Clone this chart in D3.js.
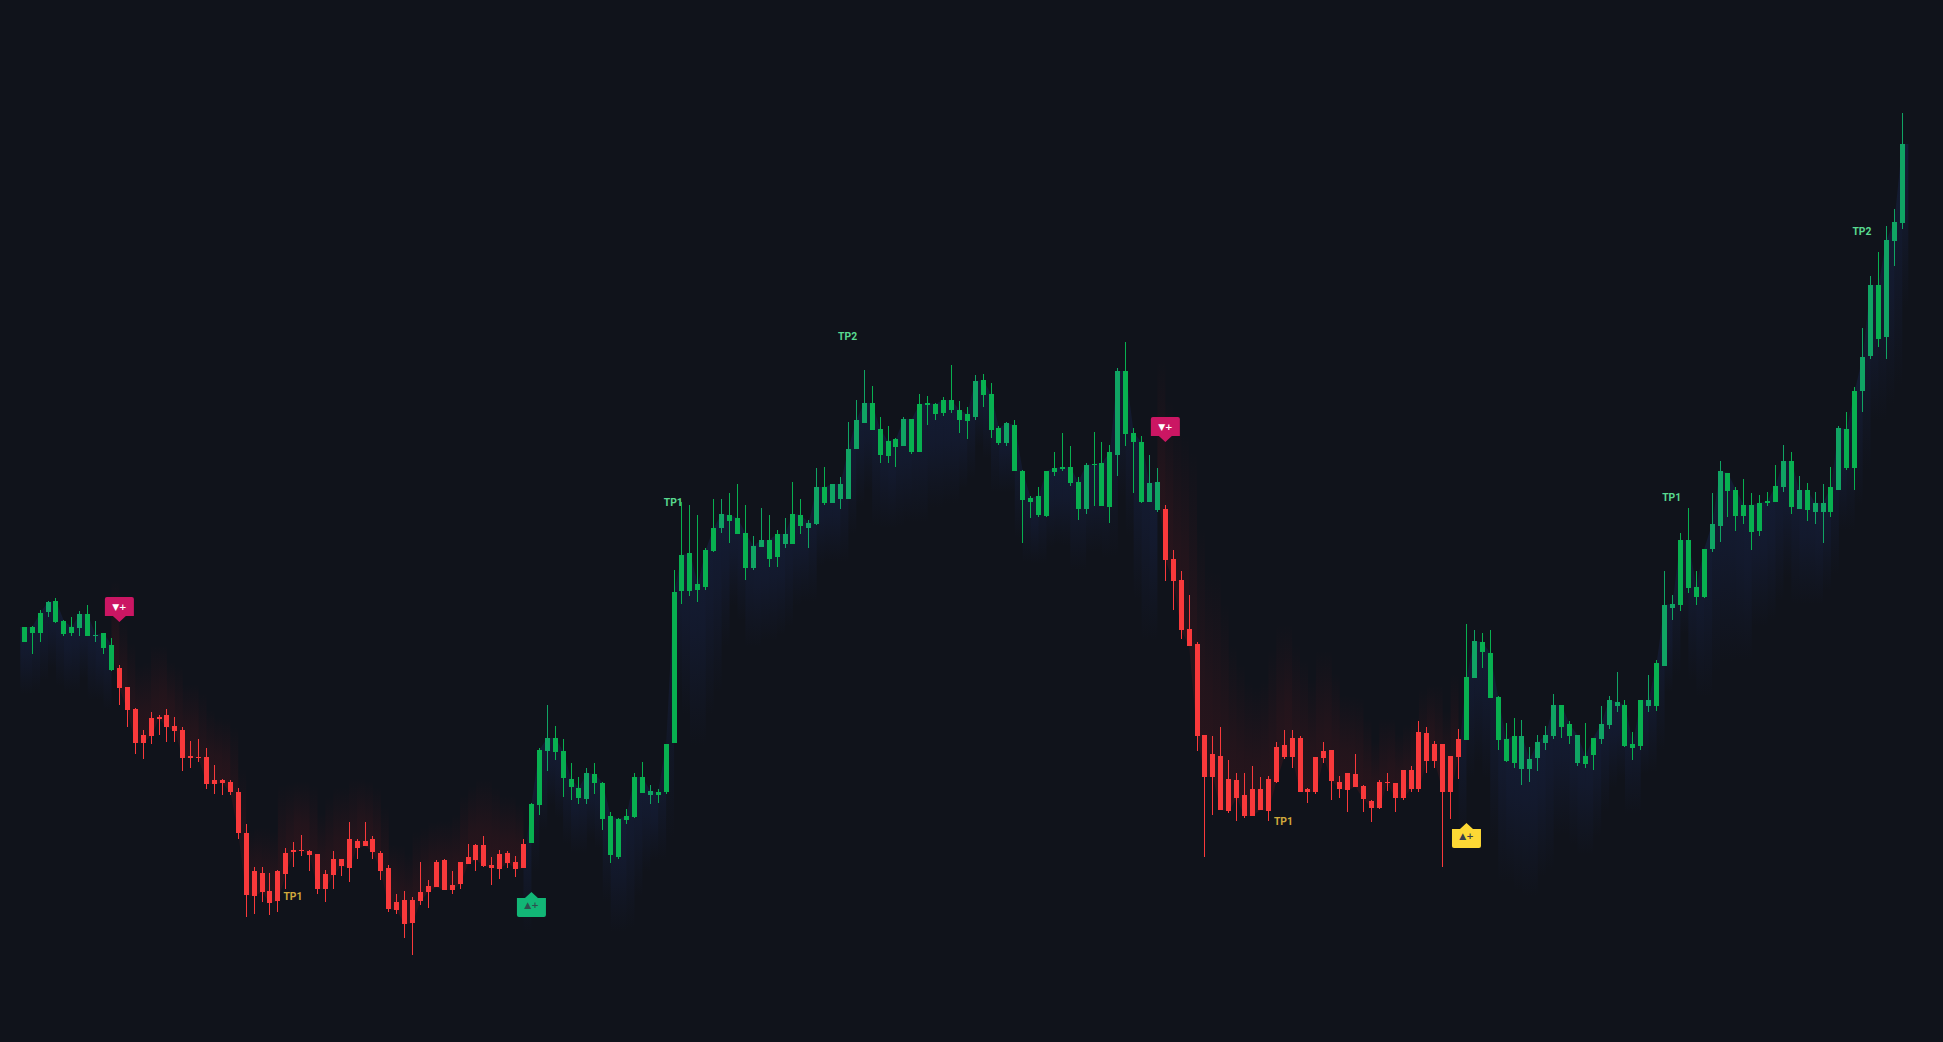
<!DOCTYPE html>
<html><head><meta charset="utf-8">
<script src="https://cdnjs.cloudflare.com/ajax/libs/d3/7.8.5/d3.min.js"></script>
<style>html,body{margin:0;padding:0;background:#10131b;overflow:hidden}svg{display:block}</style>
</head><body><div id="chart"></div>
<script>
const high=[415,416,432,441,444,422,425,431,437,421,409,404,377,355,334,312,330,327,333,325,315,301,303,294,277,263,262,254,218,175,175,169,172,194,200,207,192,188,172,191,183,220,203,220,206,191,177,148,151,145,180,162,182,183,171,180,198,198,206,185,192,191,186,203,239,294,337,316,303,279,265,274,279,260,230,224,233,269,280,257,253,298,472,540,537,527,494,543,543,549,558,537,506,534,527,512,524,560,543,522,574,575,558,565,620,642,672,656,625,616,604,625,623,648,646,639,645,677,641,635,667,668,659,616,620,622,572,546,555,571,590,609,596,565,579,610,600,597,674,700,614,606,587,574,537,492,471,447,400,307,306,315,282,269,269,276,265,266,300,312,312,306,254,285,300,292,266,269,288,257,242,262,269,259,272,276,321,315,301,298,286,313,418,412,409,412,346,319,324,322,295,307,316,348,337,321,307,319,304,336,346,370,342,310,342,367,382,471,447,509,534,471,493,549,581,569,555,563,549,547,550,577,597,590,566,559,550,558,575,616,630,655,714,766,790,816,833,929];
const bodyTop=[415,415,429,440,441,421,415,428,428,407,409,397,374,355,333,307,324,325,327,316,312,286,285,285,262,262,260,250,209,171,169,151,171,189,192,192,191,188,168,183,183,203,201,201,203,189,174,140,142,142,150,156,180,182,157,180,185,197,197,177,188,189,180,198,238,292,304,304,291,263,254,269,268,259,226,223,226,265,265,251,250,298,450,487,489,458,492,514,528,527,524,509,496,502,502,508,508,528,527,519,555,555,558,558,593,622,639,639,613,601,603,623,623,638,639,638,642,642,632,628,661,662,648,614,619,617,571,544,546,571,574,575,575,560,577,578,579,590,671,671,609,600,559,560,533,483,462,413,398,307,288,286,263,262,247,253,253,263,295,297,304,304,253,285,291,292,260,269,268,256,241,260,260,259,272,272,310,309,298,298,286,303,365,401,400,389,345,303,306,306,283,300,307,337,337,318,307,286,304,318,342,340,337,298,342,342,379,437,438,502,502,455,493,518,571,569,552,537,537,539,541,556,581,581,552,552,539,539,555,614,613,651,685,757,757,802,820,898];
const bodyBottom=[400,409,409,430,420,408,409,414,406,406,394,372,354,332,299,299,306,323,315,311,284,284,284,258,258,259,250,209,147,146,150,139,141,168,190,191,187,153,153,167,176,174,194,196,190,171,133,132,118,119,141,150,155,152,152,158,178,182,176,174,173,179,173,174,199,237,291,290,264,255,244,243,259,223,187,185,222,225,249,247,247,250,299,451,451,452,455,491,514,521,508,474,474,495,483,485,498,498,516,514,518,539,539,543,543,593,619,612,587,586,595,596,590,590,637,628,629,632,622,621,625,647,612,599,599,571,542,540,527,526,570,573,559,533,533,577,536,535,587,608,600,540,540,532,482,461,412,396,306,265,265,232,231,244,226,226,232,231,260,285,285,250,250,250,284,261,253,252,255,243,234,234,259,244,244,253,253,281,281,250,250,285,302,364,390,344,302,281,279,273,273,284,299,306,315,306,279,278,287,303,317,336,296,294,296,336,336,376,434,437,454,445,445,493,516,551,526,526,510,511,539,540,555,535,533,532,530,530,530,552,574,574,651,686,703,705,801,819];
const low=[400,388,400,425,419,406,406,406,406,400,388,371,337,315,288,283,298,307,300,300,271,274,280,253,248,247,247,203,125,128,140,127,130,153,175,186,171,148,140,153,166,160,183,196,183,162,130,128,104,87,137,134,155,152,148,153,178,171,175,157,163,174,165,174,199,227,271,282,245,242,238,238,248,212,179,183,218,224,249,238,239,248,299,438,446,440,452,490,509,499,508,462,472,495,475,475,494,498,508,494,517,537,539,533,543,593,619,612,579,579,575,596,588,590,617,622,626,629,609,603,622,635,604,597,596,571,499,524,525,525,566,571,556,522,528,536,536,519,566,596,549,539,540,530,461,432,403,396,291,185,227,232,229,221,224,226,232,221,259,283,274,250,239,248,279,242,244,230,255,230,220,233,251,230,242,250,250,269,274,175,223,263,302,364,374,344,292,280,274,257,260,271,292,303,304,298,276,274,272,298,313,330,295,282,292,330,331,376,422,431,449,437,444,490,500,525,511,518,492,506,536,540,550,528,533,521,518,499,525,552,572,552,630,683,695,683,776,813];

// trend regimes: first candle index, last candle index, direction
const regimes=[
  {from:0,to:11,dir:"up"},
  {from:12,to:63,dir:"down"},
  {from:64,to:143,dir:"up"},
  {from:144,to:181,dir:"down"},
  {from:182,to:237,dir:"up"}
];
const tinted=[3,7,9,66,71,79,88,92,93,96,99,100,102,103,104,105,106,111,120,124,134,138,142,143,183,189,190,191,192,193,196,199,200,201,205,207,208,213,214,222,224,226,227,229,232,233,235,236,237];
const tpLabels=[
  {text:"TP1",i:34,price:142,kind:"down"},
  {text:"TP1",i:159,price:217,kind:"down"},
  {text:"TP1",i:82,price:536,kind:"up"},
  {text:"TP2",i:104,price:702,kind:"up"},
  {text:"TP1",i:208,price:541,kind:"up"},
  {text:"TP2",i:232,price:807,kind:"up"}
];
const badges=[
  {i:12,price:420,side:"above",glyph:"▼+",fill:"#cb1663",ink:"#ffffff"},
  {i:144,price:600,side:"above",glyph:"▼+",fill:"#cb1663",ink:"#ffffff"},
  {i:64,price:150,side:"below",glyph:"▲+",fill:"#12b676",ink:"#2f4f4f"},
  {i:182,price:219,side:"below",glyph:"▲+",fill:"#fdd835",ink:"#3b3f4a"}
];

const W=1943,H=1042;
const svg=d3.select("#chart").append("svg").attr("width",W).attr("height",H).attr("viewBox",[0,0,W,H]);
svg.append("rect").attr("width",W).attr("height",H).attr("fill","#10131b");
const x=d3.scaleLinear().domain([0,high.length-1]).range([24.3,1902.3]);
const y=d3.scaleLinear().domain([0,H]).range([H,0]);

const dirOf=i=>regimes.find(r=>i>=r.from&&i<=r.to).dir;
const closeOf=i=>dirOf(i)==="up"?bodyTop[i]:bodyBottom[i];
const depthOf=i=>Math.max(65,4.5*d3.median(d3.range(Math.max(0,i-13),i+1),k=>bodyTop[k]-bodyBottom[k]));

const defs=svg.append("defs");
function grad(id,color,op,dir){
  const g=defs.append("linearGradient").attr("id",id).attr("x1",0).attr("x2",0).attr("y1",dir==="up"?0:1).attr("y2",dir==="up"?1:0);
  [[0,op],[.4,op*.72],[.75,op*.28],[1,0]].forEach(([o,a])=>g.append("stop").attr("offset",o).attr("stop-color",color).attr("stop-opacity",a));
}
grad("glow-up","#20367f",.25,"up");
grad("glow-down","#a81c1f",.17,"down");

// glow columns, one per interval, hanging off the close line
const glow=svg.append("g");
const cols=d3.range(-1,high.length).map(i=>{
  const b=Math.min(i+1,high.length-1), a=Math.max(i,0);
  const d=dirOf(i+1<high.length?i+1:i);
  return {a,b,d,xa:i<0?x(0)-4:x(a),xb:i+1>=high.length?x(a)+6:x(b)};
});
glow.selectAll("path").data(cols).join("path")
  .attr("fill",c=>`url(#glow-${c.d})`)
  .attr("d",c=>{
    const ca=closeOf(c.a),cb=closeOf(c.b);
    const da=depthOf(c.a),db=depthOf(c.b);
    const edge=(c.d==="up"?Math.min(ca-da,cb-db):Math.max(ca+da,cb+db));
    return `M${c.xa},${y(ca)}L${c.xb},${y(cb)}L${c.xb},${y(edge)}L${c.xa},${y(edge)}Z`;
  });

// candles
const candleColor=i=>dirOf(i)==="up"?(tinted.includes(i)?"#10a464":"#08b050"):"#f9393b";
const candles=svg.append("g").attr("shape-rendering","crispEdges");
const idx=d3.range(high.length);
candles.selectAll("rect.w").data(idx).join("rect").attr("class","w")
  .attr("x",i=>Math.round(x(i)-2.5)+2).attr("width",1)
  .attr("y",i=>y(high[i])).attr("height",i=>y(low[i])-y(high[i]))
  .attr("fill",candleColor);
candles.selectAll("rect.b").data(idx).join("rect").attr("class","b")
  .attr("x",i=>Math.round(x(i)-2.5)).attr("width",5)
  .attr("y",i=>y(bodyTop[i])).attr("height",i=>Math.max(1,y(bodyBottom[i])-y(bodyTop[i])))
  .attr("fill",candleColor);

// TP labels
svg.append("g").selectAll("text").data(tpLabels).join("text")
  .attr("x",d=>x(d.i)-0.8).attr("y",d=>y(d.price)).attr("text-anchor","middle")
  .attr("font-family","Roboto, sans-serif").attr("font-size",11.5).attr("font-weight",700)
  .attr("textLength",19).attr("lengthAdjust","spacingAndGlyphs")
  .attr("fill",d=>d.kind==="up"?"#58d98f":"#d0aa3c").text(d=>d.text);

// signal badges
const badge=svg.append("g").selectAll("g").data(badges).join("g")
  .attr("transform",d=>`translate(${x(d.i)},${y(d.price)})`);
badge.append("path").attr("fill",d=>d.fill).attr("d",d=>{
  const s=d.side==="above"?1:-1, bw=14.5, r=2, h=19, tip=6, pw=6.5;
  // origin sits on the pointer tip
  const b0=-s*tip, b1=-s*(tip+h);
  return `M0,0L${pw},${b0}L${bw},${b0}` +
    `L${bw},${b1+s*r}Q${bw},${b1} ${bw-r},${b1}L${-bw+r},${b1}Q${-bw},${b1} ${-bw},${b1+s*r}`+
    `L${-bw},${b0}L${-pw},${b0}Z`;
});
badge.append("text").attr("text-anchor","middle")
  .attr("y",d=>d.side==="above"?-12:15.5)
  .attr("font-family","'DejaVu Sans', sans-serif").attr("font-size",9).attr("font-weight",700)
  .attr("fill",d=>d.ink).text(d=>d.glyph);
</script></body></html>
